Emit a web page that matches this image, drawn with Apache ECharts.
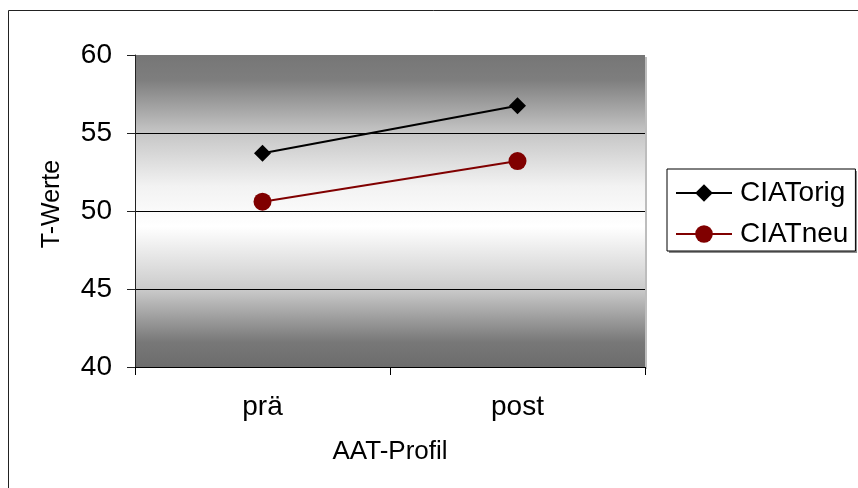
<!DOCTYPE html>
<html>
<head>
<meta charset="utf-8">
<script src="https://cdn.jsdelivr.net/npm/echarts@6/dist/echarts.min.js"></script>
<style>
  html, body { margin: 0; padding: 0; background: #fff; }
  #chart { width: 858px; height: 488px; }
</style>
</head>
<body>
<div id="chart"></div>
<script>
// Categories and T-values per profile
var categories = ['prä', 'post'];
var ciatOrig = [53.7, 56.75];
var ciatNeu = [50.6, 53.2];
var yTicks = { min: 40, max: 60, interval: 5 };

var FONT = '"Liberation Sans", Arial, sans-serif';

var chart = echarts.init(document.getElementById('chart'), null, { renderer: 'canvas' });

var option = {
  animation: false,
  backgroundColor: '#ffffff',
  textStyle: { fontFamily: FONT, color: '#000' },
  graphic: [
    // outer chart frame (runs off the right and bottom edges)
    {
      type: 'rect', silent: true, z: -1,
      shape: { x: 8.5, y: 10.5, width: 900, height: 600 },
      style: { fill: null, stroke: '#222', lineWidth: 1 }
    },
    // plot area shadow on the right
    {
      type: 'rect', silent: true, z: -1,
      shape: { x: 645, y: 57, width: 2, height: 312 },
      style: { fill: '#bdbdbd' }
    },
    // legend box shadow
    {
      type: 'rect', silent: true, z: 0,
      shape: { x: 669, y: 171, width: 188, height: 82 },
      style: { fill: '#8c8c8c' }
    }
  ],
  grid: {
    left: 135, top: 55, width: 510, height: 312,
    show: true,
    borderWidth: 0,
    backgroundColor: new echarts.graphic.LinearGradient(0, 0, 0, 1, [
      { offset: 0.00, color: '#767676' },
      { offset: 0.08, color: '#7e7e7e' },
      { offset: 0.25, color: '#c6c6c6' },
      { offset: 0.42, color: '#f2f2f2' },
      { offset: 0.55, color: '#ffffff' },
      { offset: 0.75, color: '#cbcbcb' },
      { offset: 0.92, color: '#787878' },
      { offset: 1.00, color: '#6c6c6c' }
    ])
  },
  legend: {
    orient: 'vertical',
    left: 667, top: 169,
    padding: [10, 7, 3, 8],
    itemWidth: 56, itemHeight: 22,
    itemGap: 13,
    backgroundColor: '#ffffff',
    borderColor: '#000', borderWidth: 1,
    lineStyle: { width: 2 },
    textStyle: { fontFamily: FONT, fontSize: 28, color: '#000', padding: [0, 0, 0, 3] },
    data: ['CIATorig', 'CIATneu']
  },
  xAxis: {
    type: 'category',
    data: categories,
    boundaryGap: true,
    name: 'AAT-Profil',
    nameLocation: 'middle',
    nameGap: 72,
    nameTextStyle: { fontFamily: FONT, fontSize: 26, color: '#000' },
    axisLine: { lineStyle: { color: '#000', width: 1 } },
    axisTick: { show: true, length: 8, lineStyle: { color: '#000' } },
    axisLabel: { fontFamily: FONT, fontSize: 28, color: '#000', margin: 26 },
    splitLine: { show: false }
  },
  yAxis: {
    type: 'value',
    min: yTicks.min, max: yTicks.max, interval: yTicks.interval,
    name: 'T-Werte',
    nameLocation: 'middle',
    nameGap: 70,
    nameRotate: 90,
    nameTextStyle: { fontFamily: FONT, fontSize: 25, color: '#000', padding: [0, 0, 0, 14] },
    axisLine: { show: true, lineStyle: { color: '#222', width: 1 } },
    axisTick: { show: true, length: 8, lineStyle: { color: '#222' } },
    axisLabel: { fontFamily: FONT, fontSize: 28, color: '#000', margin: 23 },
    splitLine: {
      show: true,
      lineStyle: { color: '#000', width: 1 },
      showMinLine: false, showMaxLine: false
    }
  },
  series: [
    {
      name: 'CIATorig',
      type: 'line',
      data: ciatOrig,
      symbol: 'diamond',
      symbolSize: 17,
      color: '#000000',
      lineStyle: { color: '#000000', width: 2 },
      itemStyle: { color: '#000000' },
      z: 3
    },
    {
      name: 'CIATneu',
      type: 'line',
      data: ciatNeu,
      symbol: 'circle',
      symbolSize: 18,
      color: '#800000',
      lineStyle: { color: '#800000', width: 2 },
      itemStyle: { color: '#800000' },
      z: 3
    }
  ]
};

chart.setOption(option);
</script>
</body>
</html>
